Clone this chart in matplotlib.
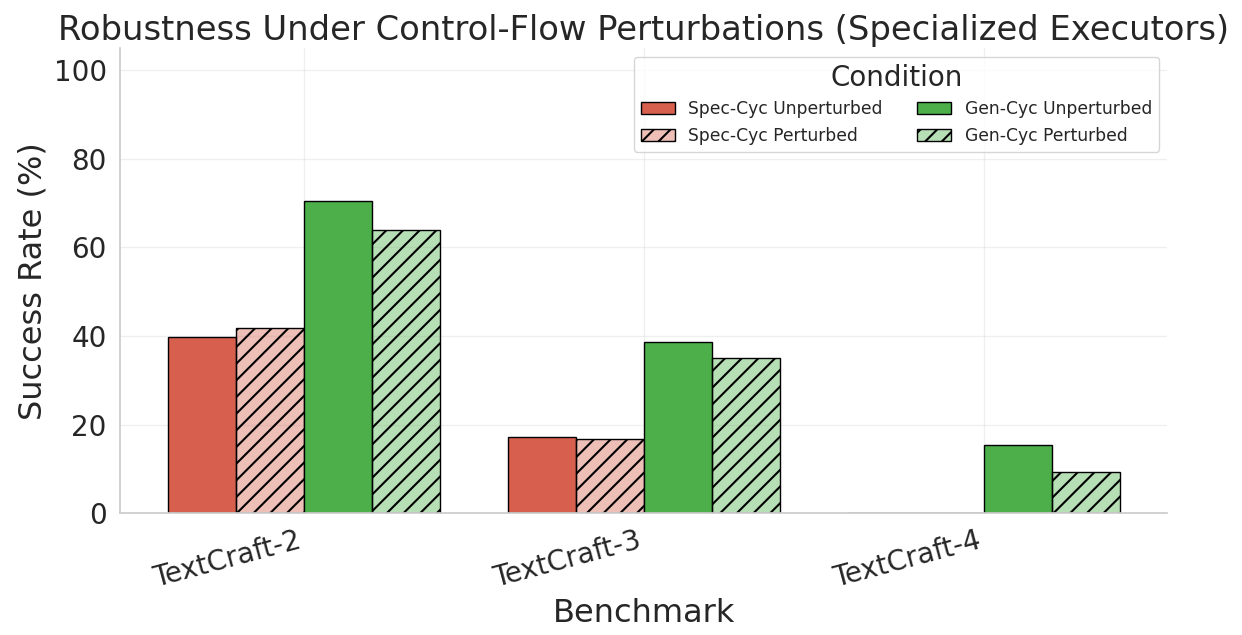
import numpy as np
import matplotlib.pyplot as plt
import seaborn as sns

# --- Data (success rates in %) ---
benchmarks = ['TextCraft-2', 'TextCraft-3', 'TextCraft-4']
conditions = ['Spec-Cyc Unperturbed', 'Spec-Cyc Perturbed',
              'Gen-Cyc Unperturbed', 'Gen-Cyc Perturbed']
spec_unpert = [39.7, 17.2, 0.0]
spec_pert = [41.7, 16.8, 0.0]
gen_unpert = [70.5, 38.6, 15.3]
gen_pert = [63.9, 35.1, 9.2]

sns.set_theme(style='whitegrid')
plt.rcParams['font.family'] = ['DejaVu Sans']

red = '#d6604d'
green = '#4daf4a'
series = [spec_unpert, spec_pert, gen_unpert, gen_pert]
faces = [red, (0.839, 0.376, 0.302, 0.4), green, (0.302, 0.686, 0.290, 0.4)]
hatches = [None, '//', None, '//']

plt.rcParams['hatch.linewidth'] = 1.5

fig, ax = plt.subplots(figsize=(12.42, 6.35), dpi=100)
x = np.arange(len(benchmarks))
w = 0.2
for i, (vals, fc, h, lab) in enumerate(zip(series, faces, hatches, conditions)):
    ax.bar(x + (i - 1.5) * w, vals, w, color=fc, edgecolor='black',
           linewidth=1.0, hatch=h, label=lab)

ax.set_ylim(0, 105)
ax.set_xticks(x)
ax.set_xticklabels(benchmarks, rotation=15, ha='right', fontsize=20)
ax.tick_params(axis='y', labelsize=20)
ax.set_xlabel('Benchmark', fontsize=23)
ax.set_ylabel('Success Rate (%)', fontsize=23)
ax.set_title('Robustness Under Control-Flow Perturbations (Specialized Executors)', fontsize=24.3)
ax.grid(True, alpha=0.3)
sns.despine(ax=ax)

leg = ax.legend(title='Condition', ncol=2, fontsize=12.3, title_fontsize=20,
                loc='upper right', frameon=True)

plt.subplots_adjust(left=0.0966, right=0.940, top=0.924, bottom=0.192)
plt.savefig('out.png')
